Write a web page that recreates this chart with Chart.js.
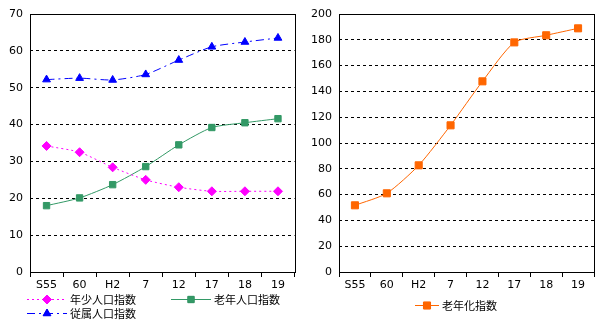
<!DOCTYPE html>
<html>
<head>
<meta charset="utf-8">
<script src="https://cdn.jsdelivr.net/npm/chart.js@4.4.1/dist/chart.umd.min.js"></script>
<style>
  body { margin: 0; background: #fff; }
  .wrap { display: flex; width: 600px; height: 325px; }
  .box { position: relative; width: 300px; height: 325px; }
</style>
</head>
<body>
<div class="wrap">
  <div class="box"><canvas id="left"></canvas></div>
  <div class="box"><canvas id="right"></canvas></div>
</div>
<script>
const years = ['S55', '60', 'H2', '7', '12', '17', '18', '19'];
const youngIndex = [34.2, 32.5, 28.4, 25.0, 23.0, 21.9, 21.9, 21.9];
const oldIndex = [18.0, 20.1, 23.7, 28.6, 34.5, 39.2, 40.5, 41.6];
const dependIndex = [52.2, 52.6, 52.1, 53.6, 57.5, 61.1, 62.4, 63.5];
const agingIndex = [51.7, 61.0, 82.7, 113.7, 147.8, 178.0, 183.5, 188.9];

const jpFont = '"Noto Sans CJK JP", "DejaVu Sans", sans-serif';
const numFont = '"DejaVu Sans", sans-serif';
Chart.defaults.font.family = jpFont;
Chart.defaults.font.size = 11;
Chart.defaults.color = '#000';
Chart.defaults.animation = false;

// frame round the plot area
const framePlugin = {
    id: 'frame',
    afterDatasetsDraw(chart) {
        const a = chart.chartArea;
        const c = chart.ctx;
        c.save();
        c.strokeStyle = '#000';
        c.lineWidth = 1;
        c.setLineDash([]);
        c.strokeRect(Math.round(a.left) + 0.5, Math.round(a.top) + 0.5,
            Math.round(a.right - a.left), Math.round(a.bottom - a.top));
        c.restore();
    }
};

// legend drawn by hand: line sample with marker, then the label
const legendPlugin = {
    id: 'handLegend',
    afterDraw(chart, args, opts) {
        const c = chart.ctx;
        chart.data.datasets.forEach((ds, i) => {
            const p = opts.items[i];
            c.save();
            c.strokeStyle = ds.borderColor;
            c.lineWidth = 1;
            c.setLineDash(ds.borderDash || []);
            c.beginPath();
            c.moveTo(p.x, p.y + 0.5);
            c.lineTo(p.x + p.w, p.y + 0.5);
            c.stroke();
            c.setLineDash([]);
            Chart.helpers.drawPoint(c, {
                pointStyle: ds.pointStyle,
                radius: ds.pointRadius,
                rotation: 0,
                borderWidth: 1
            }, p.x + p.w / 2, p.y + 0.5);
            c.fillStyle = ds.pointBackgroundColor;
            c.strokeStyle = ds.pointBorderColor;
            c.fill();
            c.fillStyle = '#000';
            c.font = '11px ' + jpFont;
            c.textBaseline = 'middle';
            c.fillText(ds.label, p.x + p.w + 3, p.y + 1);
            c.restore();
        });
    }
};

function makeChart(id, datasets, yMax, yStep, yWidth, legendItems) {
    return new Chart(document.getElementById(id), {
        type: 'line',
        data: { labels: years, datasets: datasets },
        options: {
            responsive: false,
            maintainAspectRatio: false,
            layout: { padding: { top: 14, right: 4, left: 0, bottom: 0 } },
            plugins: {
                legend: { display: false },
                tooltip: { enabled: false },
                handLegend: { items: legendItems }
            },
            scales: {
                x: {
                    offset: true,
                    grid: { offset: true, drawOnChartArea: false, drawTicks: true, tickLength: 5, color: '#000' },
                    border: { display: true, color: '#000' },
                    ticks: { padding: 2, font: { family: numFont, size: 11 } },
                    afterFit(s) { s.height = 53; }
                },
                y: {
                    min: 0,
                    max: yMax,
                    ticks: { stepSize: yStep, padding: 7, font: { family: numFont, size: 11 } },
                    grid: { color: '#000', drawTicks: false, lineWidth: 1 },
                    border: { display: false, dash: [3, 3] },
                    afterFit(s) { s.width = yWidth; }
                }
            }
        },
        plugins: [framePlugin, legendPlugin]
    });
}

function series(label, values, color, dash, style, radius) {
    return {
        label: label,
        data: values,
        borderColor: color,
        backgroundColor: color,
        pointBackgroundColor: color,
        pointBorderColor: color,
        borderWidth: 1,
        borderDash: dash,
        pointStyle: style,
        pointRadius: radius,
        pointBorderWidth: 1,
        tension: 0.22
    };
}

const lc = document.getElementById('left');
lc.width = 300; lc.height = 325;
const rc = document.getElementById('right');
rc.width = 300; rc.height = 325;

makeChart('left', [
    series('年少人口指数', youngIndex, '#FF00FF', [2, 3], 'rectRot', 4.5),
    series('老年人口指数', oldIndex, '#339966', [], 'rect', 4.5),
    series('従属人口指数', dependIndex, '#0000FF', [8, 4, 2, 4], 'triangle', 4.5)
], 70, 10, 30, [
    { x: 27, y: 299, w: 40 },
    { x: 171, y: 299, w: 40 },
    { x: 27, y: 313, w: 40 }
]);

makeChart('right', [
    series('老年化指数', agingIndex, '#FF6600', [], 'rect', 5)
], 200, 20, 39, [
    { x: 115, y: 305, w: 24 }
]);
</script>
</body>
</html>
